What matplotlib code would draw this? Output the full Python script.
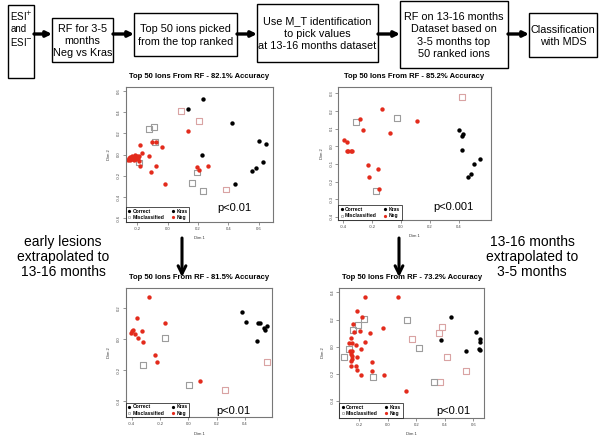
import matplotlib.pyplot as plt
from matplotlib.lines import Line2D
from matplotlib.patches import Rectangle

plt.rcParams['font.family'] = ['Liberation Sans', 'DejaVu Sans']

# --- MDS coordinates (Dim 1, Dim 2) ---
# top left: 3-5 months
p1_kras = [(0.233, 0.523), (0.133, 0.431), (0.422, 0.292), (0.600, 0.129), (0.647, 0.098),
           (0.224, -0.006), (0.627, -0.068), (0.582, -0.123), (0.556, -0.151), (0.444, -0.274)]
p1_neg = [(-0.262, -0.050), (-0.255, -0.040), (-0.250, -0.055), (-0.245, -0.035), (-0.240, -0.045),
          (-0.238, -0.025), (-0.232, -0.040), (-0.228, -0.020), (-0.225, -0.050), (-0.220, -0.030),
          (-0.215, -0.015), (-0.212, -0.040), (-0.205, -0.025), (-0.200, -0.010), (-0.196, -0.030),
          (-0.190, -0.015), (-0.235, -0.010), (-0.248, -0.020), (-0.258, -0.030), (-0.218, -0.005),
          (-0.182, 0.092), (-0.171, 0.018), (-0.104, 0.114), (-0.080, 0.117), (-0.038, 0.074),
          (-0.124, -0.015), (-0.191, -0.065), (-0.182, -0.108), (-0.109, -0.163), (-0.078, -0.105),
          (-0.016, -0.280), (0.136, 0.218), (0.193, -0.117), (0.207, -0.145), (0.264, -0.105)]
p1_mis_pink = [(0.087, 0.406), (0.204, 0.314), (0.382, -0.329)]
p1_mis_gray = [(-0.124, 0.237), (-0.089, 0.258), (-0.084, 0.117), (0.196, -0.169),
               (0.160, -0.268), (0.233, -0.342), (-0.190, -0.075)]

# top right: 13-16 months
p2_kras = [(0.398, 0.092), (0.418, 0.060), (0.430, 0.070), (0.418, -0.023), (0.545, -0.072),
           (0.501, -0.102), (0.483, -0.158), (0.460, -0.172)]
p2_neg = [(-0.129, 0.213), (-0.283, 0.157), (0.108, 0.145), (-0.260, 0.092), (-0.076, 0.074),
          (-0.393, 0.036), (-0.372, 0.025), (-0.375, -0.025), (-0.363, -0.025), (-0.343, -0.025),
          (-0.336, -0.028), (-0.230, -0.106), (-0.159, -0.130), (-0.221, -0.172), (-0.149, -0.242)]
p2_mis_pink = [(0.418, 0.281)]
p2_mis_gray = [(-0.310, 0.136), (-0.030, 0.158), (-0.172, -0.253)]

# bottom left: early lesions extrapolated to 13-16 months
p3_kras = [(0.379, 0.175), (0.407, 0.114), (0.494, 0.108), (0.506, 0.103), (0.536, 0.075),
           (0.553, 0.086), (0.541, 0.060), (0.485, -0.011)]
p3_neg = [(-0.278, 0.276), (-0.365, 0.140), (-0.162, 0.106), (-0.400, 0.056), (-0.393, 0.060),
          (-0.407, 0.043), (-0.376, 0.032), (-0.327, 0.056), (-0.355, 0.011), (-0.322, -0.015),
          (-0.238, -0.099), (-0.221, -0.149), (0.085, -0.269)]
p3_mis_pink = [(0.553, -0.149), (0.259, -0.330)]
p3_mis_gray = [(-0.165, 0.006), (-0.318, -0.164), (0.005, -0.295)]

# bottom right: 13-16 months extrapolated to 3-5 months
p4_kras = [(0.442, 0.219), (0.617, 0.108), (0.647, 0.059), (0.650, 0.032), (0.374, 0.047),
           (0.551, -0.029), (0.640, -0.020), (0.647, -0.025)]
p4_neg = [(-0.159, 0.369), (0.070, 0.369), (-0.213, 0.263), (-0.178, 0.221), (-0.245, 0.165),
          (-0.236, 0.111), (-0.196, 0.113), (-0.030, 0.140), (-0.126, 0.098), (-0.259, 0.066),
          (-0.161, 0.037), (-0.271, 0.025), (-0.248, 0.025), (-0.224, 0.012), (-0.264, -0.032),
          (-0.250, -0.029), (-0.187, -0.015), (-0.255, -0.054), (-0.248, -0.069), (-0.213, -0.076),
          (-0.255, -0.106), (-0.248, -0.088), (-0.107, -0.113), (-0.255, -0.143), (-0.222, -0.143),
          (-0.217, -0.170), (-0.107, -0.179), (-0.187, -0.209), (-0.023, -0.209), (0.129, -0.324)]
p4_mis_pink = [(0.381, 0.147), (0.362, 0.103), (0.168, 0.059), (0.416, -0.079),
               (0.551, -0.182), (0.364, -0.263)]
p4_mis_gray = [(0.138, 0.194), (0.220, -0.010), (-0.210, 0.160), (-0.241, 0.123), (-0.168, 0.204),
               (-0.269, -0.020), (-0.306, -0.074), (-0.100, -0.224), (0.325, -0.260)]

titles = ['Top 50 Ions From RF - 82.1% Accuracy', 'Top 50 Ions From RF - 85.2% Accuracy',
          'Top 50 Ions From RF - 81.5% Accuracy', 'Top 50 Ions From RF - 73.2% Accuracy']
pvals = ['p<0.01', 'p<0.001', 'p<0.01', 'p<0.01']

flow_texts = ['RF for 3-5\nmonths\nNeg vs Kras', 'Top 50 ions picked\nfrom the top ranked',
              'Use M_T identification\nto pick values\nat 13-16 months dataset',
              'RF on 13-16 months\nDataset based on\n3-5 months top\n50 ranked ions',
              'Classification\nwith MDS']
left_note = 'early lesions\nextrapolated to\n13-16 months'
right_note = '13-16 months\nextrapolated to\n3-5 months'

RED = '#e32b1c'
PINK = '#d9a3a3'
GRAY = '#9c9c9c'

W, H = 600, 446
fig = plt.figure(figsize=(W / 100, H / 100), dpi=100)

# overlay in pixel coordinates for flowchart, titles, arrows and notes
ov = fig.add_axes([0, 0, 1, 1])
ov.set_xlim(0, W)
ov.set_ylim(H, 0)
ov.axis('off')


def px_axes(x0, y0, x1, y1):
    return fig.add_axes([x0 / W, 1 - y1 / H, (x1 - x0) / W, (y1 - y0) / H])


def box(x0, y0, x1, y1):
    ov.add_patch(Rectangle((x0, y0), x1 - x0, y1 - y0, fill=False, lw=1.0, ec='k'))


def harrow(x0, x1, y):
    ov.annotate('', xy=(x1, y), xytext=(x0, y),
                arrowprops=dict(arrowstyle='-|>', lw=2.4, color='k', mutation_scale=8,
                                shrinkA=0, shrinkB=0))


# flowchart
boxes = [(8, 5, 34, 78), (52, 18, 113, 62), (134, 13, 237, 56), (257, 4, 378, 62),
         (400, 1, 508, 68), (529, 13, 597, 57)]
for b in boxes:
    box(*b)
ov.text(10.5, 29, 'ESI$^{+}$\nand\nESI$^{-}$', fontsize=7, ha='left', va='center', linespacing=1.15)
for b, t in zip(boxes[1:], flow_texts):
    ov.text((b[0] + b[2]) / 2, (b[1] + b[3]) / 2 + 1, t, fontsize=7.8, ha='center', va='center',
            linespacing=1.3)
for a, b in zip(boxes[:-1], boxes[1:]):
    harrow(a[2], b[0], 34)

# down arrows and side notes
for x in (182, 399):
    ov.annotate('', xy=(x, 277), xytext=(x, 238),
                arrowprops=dict(arrowstyle='->', lw=2.2, color='k', mutation_scale=14,
                                shrinkA=0, shrinkB=0))
ov.text(63, 257, left_note, fontsize=10, ha='center', va='center', linespacing=1.12)
ov.text(532, 257, right_note, fontsize=10, ha='center', va='center', linespacing=1.12)

panels = [
    ((125.7, 87.3, 272.7, 221.7), (-0.277, 0.693), (-0.632, 0.632),
     [-0.2, 0.0, 0.2, 0.4, 0.6], [-0.6, -0.4, -0.2, 0.0, 0.2, 0.4, 0.6],
     p1_kras, p1_neg, p1_mis_pink, p1_mis_gray, (0.62, 0.10)),
    ((338.3, 87.3, 490.7, 220.0), (-0.432, 0.618), (-0.417, 0.334),
     [-0.4, -0.2, 0.0, 0.2, 0.4], [-0.4, -0.3, -0.2, -0.1, 0.0, 0.1, 0.2, 0.3],
     p2_kras, p2_neg, p2_mis_pink, p2_mis_gray, (0.62, 0.095)),
    ((125.7, 288.3, 272.3, 417.3), (-0.442, 0.593), (-0.504, 0.330),
     [-0.4, -0.2, 0.0, 0.2, 0.4], [-0.4, -0.2, 0.0, 0.2],
     p3_kras, p3_neg, p3_mis_pink, p3_mis_gray, (0.62, 0.05)),
    ((339.3, 288.3, 484.0, 417.7), (-0.339, 0.675), (-0.523, 0.430),
     [-0.2, 0.0, 0.2, 0.4, 0.6], [-0.4, -0.2, 0.0, 0.2, 0.4],
     p4_kras, p4_neg, p4_mis_pink, p4_mis_gray, (0.67, 0.05)),
]

legend_handles = [
    Line2D([], [], marker='o', ls='', color='k', ms=1.3, label='Correct'),
    Line2D([], [], marker='s', ls='', mfc='none', mec=GRAY, mew=0.5, ms=1.8, label='Misclassified'),
    Line2D([], [], marker='o', ls='', color='k', ms=1.3, label='Kras'),
    Line2D([], [], marker='o', ls='', color=RED, ms=1.3, label='Neg'),
]

for i, (rect, xl, yl, xt, yt, kras, neg, pink, gray, ppos) in enumerate(panels):
    ax = px_axes(*rect)
    ax.scatter([p[0] for p in pink], [p[1] for p in pink], marker='s', s=18,
               facecolors='none', edgecolors=PINK, linewidths=0.8)
    ax.scatter([p[0] for p in gray], [p[1] for p in gray], marker='s', s=18,
               facecolors='none', edgecolors=GRAY, linewidths=0.8)
    ax.scatter([p[0] for p in neg], [p[1] for p in neg], marker='o', s=10, color=RED, lw=0)
    ax.scatter([p[0] for p in kras], [p[1] for p in kras], marker='o', s=10, color='k', lw=0)
    ax.set_xlim(*xl)
    ax.set_ylim(*yl)
    ax.set_xticks(xt)
    ax.set_yticks(yt)
    ax.set_xticklabels(['%.1f' % v for v in xt])
    ax.set_yticklabels(['%.1f' % v for v in yt], rotation=90, va='center')
    ax.tick_params(labelsize=3, length=2, width=0.4, pad=1.5, colors='#444')
    ax.set_xlabel('Dim 1', fontsize=3, labelpad=4, color='#333')
    ax.set_ylabel('Dim 2', fontsize=3, labelpad=4, color='#333')
    for s in ax.spines.values():
        s.set_color('#777')
        s.set_linewidth(0.8)
    leg = ax.legend(handles=legend_handles, loc='lower left', ncol=2, frameon=True,
                    fancybox=False, edgecolor='k', borderaxespad=0,
                    prop=dict(size=3.6, weight='bold'), handlelength=0.6, handletextpad=0.4,
                    columnspacing=1.4, borderpad=0.35, labelspacing=0.25)
    leg.get_frame().set_linewidth(0.6)
    ax.text(ppos[0], ppos[1], pvals[i], transform=ax.transAxes, fontsize=8,
            ha='left', va='center')
    x0, y0, x1, y1 = rect
    ov.text((x0 + x1) / 2, y0 - 11, titles[i], fontsize=5.5, fontweight='bold',
            ha='center', va='center')

fig.savefig('out.png', dpi=100)
